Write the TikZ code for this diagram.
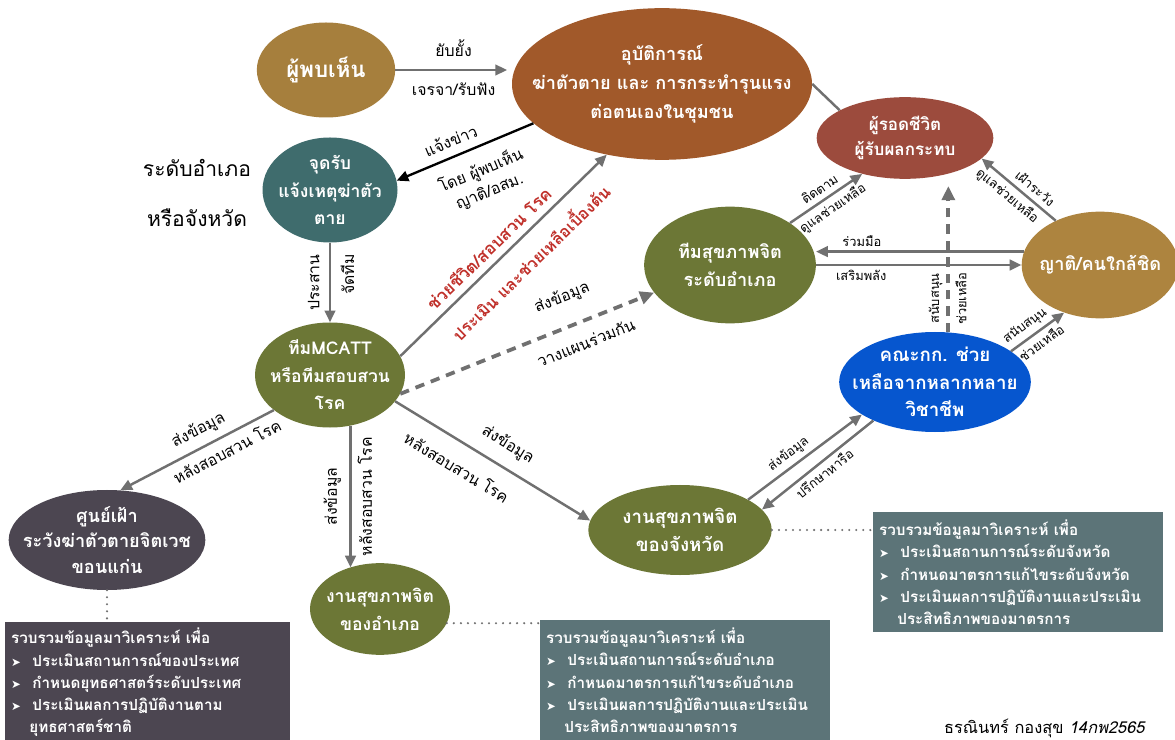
\documentclass[tikz,border=0pt]{standalone}
\usepackage{fontspec}
\setmainfont[Script=Thai]{Loma}
\newfontfamily\symfont{DejaVu Sans}
\usetikzlibrary{arrows.meta,shapes.geometric}
\definecolor{cfinder}{HTML}{A67F3D}
\definecolor{cincident}{HTML}{A1592A}
\definecolor{csurv}{HTML}{9C4B3D}
\definecolor{ccenter}{HTML}{3F6C6D}
\definecolor{cgreen}{HTML}{6C7736}
\definecolor{crel}{HTML}{AD843F}
\definecolor{cblue}{HTML}{0656CF}
\definecolor{cpurple}{HTML}{4C4651}
\definecolor{cbox}{HTML}{5C7478}
\definecolor{carrow}{HTML}{707070}
\definecolor{cred}{HTML}{C0302A}
\newcommand{\bul}{\makebox[1.4em][l]{\symfont\fontsize{10}{10}\selectfont ➤}}
\newcommand{\cnt}{\hspace*{1.2em}}
\begin{document}
\begin{tikzpicture}[x=0.03cm,y=-0.03cm,
  blob/.style={ellipse, inner xsep=-150pt, inner ysep=-80pt, text=white, align=center, font=\bfseries\fontsize{15}{24}\selectfont},
  arr/.style={draw=carrow, line width=2.1pt, -{Triangle[length=10pt,width=9pt]}},
  arrk/.style={draw=black, line width=2pt, -{Triangle[length=10pt,width=9pt]}},
  dasharr/.style={draw=carrow, line width=3.2pt, dash pattern=on 8pt off 6pt, -{Triangle[length=12pt,width=11pt]}},
  gline/.style={draw=carrow, line width=2.1pt},
  dotl/.style={draw=carrow, line width=2pt, line cap=round, dash pattern=on 0pt off 6pt},
  lab/.style={font=\fontsize{13.5}{19}\selectfont, inner sep=2pt, text=black},
  slab/.style={font=\fontsize{11}{13}\selectfont, inner sep=1.5pt, text=black},
  redlab/.style={font=\bfseries\fontsize{14.5}{17}\selectfont, inner sep=2pt, text=cred},
  infobox/.style={anchor=north west, inner sep=5pt, text=white, align=left, font=\bfseries\fontsize{13}{19}\selectfont},
  side/.style={font=\fontsize{18}{22}\selectfont, text=black}
]
\useasboundingbox[fill=white] (0,0) rectangle (1175,740);

% ellipses
\node[blob, fill=cfinder, minimum width=4.15cm, minimum height=2.85cm, font=\bfseries\fontsize{19}{22}\selectfont] (finder) at (326,70) {ผู้พบเห็น};
\node[blob, fill=cincident, minimum width=9cm, minimum height=4.55cm, font=\bfseries\fontsize{15.5}{25}\selectfont] (incident) at (662,84) {อุบัติการณ์\\ฆ่าตัวตาย และ การกระทำรุนแรง\\ต่อตนเองในชุมชน};
\node[blob, fill=csurv, minimum width=5.3cm, minimum height=2.45cm, font=\bfseries\fontsize{14.5}{22}\selectfont] (survivor) at (905,138) {ผู้รอดชีวิต\\ผู้รับผลกระทบ};
\node[blob, fill=ccenter, minimum width=4.05cm, minimum height=3.15cm, font=\bfseries\fontsize{15}{23.5}\selectfont] (center) at (330,190) {จุดรับ\\แจ้งเหตุฆ่าตัว\\ตาย};
\node[blob, fill=cgreen, minimum width=5.15cm, minimum height=3.5cm, font=\bfseries\fontsize{15.5}{24}\selectfont] (mhteam) at (730,265) {ทีมสุขภาพจิต\\ระดับอำเภอ};
\node[blob, fill=crel, minimum width=4.7cm, minimum height=3.2cm, font=\bfseries\fontsize{15.5}{20}\selectfont] (relative) at (1100,265) {ญาติ/คนใกล้ชิด};
\node[blob, fill=cgreen, minimum width=4.5cm, minimum height=3.15cm, font=\bfseries\fontsize{15}{23.5}\selectfont] (mcatt) at (330,375) {ทีมMCATT\\หรือทีมสอบสวน\\โรค};
\node[blob, fill=cblue, minimum width=5.75cm, minimum height=3cm, font=\bfseries\fontsize{16}{23.5}\selectfont] (committee) at (935,382) {คณะกก. ช่วย\\เหลือจากหลากหลาย\\วิชาชีพ};
\node[blob, fill=cpurple, minimum width=5.9cm, minimum height=3cm, font=\bfseries\fontsize{15.5}{22}\selectfont] (surveil) at (107,540) {ศูนย์เฝ้า\\ระวังฆ่าตัวตายจิตเวช\\ขอนแก่น};
\node[blob, fill=cgreen, minimum width=5.5cm, minimum height=2.7cm, font=\bfseries\fontsize{16}{24}\selectfont] (prov) at (680,530) {งานสุขภาพจิต\\ของจังหวัด};
\node[blob, fill=cgreen, minimum width=4.2cm, minimum height=2.75cm, font=\bfseries\fontsize{15}{24}\selectfont] (dist) at (380,609) {งานสุขภาพจิต\\ของอำเภอ};

% side labels
\node[side] (lvl1) at (197,168) {ระดับอำเภอ};
\node[side] (lvl2) at (197,218) {หรือจังหวัด};

% info boxes
\node[infobox, fill=cpurple, minimum width=8.55cm, minimum height=3.54cm, text width=8.2cm] (boxA) at (5,622) {รวบรวมข้อมูลมาวิเคราะห์ เพื่อ\\
\bul ประเมินสถานการณ์ของประเทศ\\
\bul กำหนดยุทธศาสตร์ระดับประเทศ\\
\bul ประเมินผลการปฏิบัติงานตาม\\
\cnt ยุทธศาสตร์ชาติ};
\node[infobox, fill=cbox, minimum width=8.7cm, minimum height=3.6cm, text width=8.35cm] (boxB) at (540,620) {รวบรวมข้อมูลมาวิเคราะห์ เพื่อ\\
\bul ประเมินสถานการณ์ระดับอำเภอ\\
\bul กำหนดมาตรการแก้ไขระดับอำเภอ\\
\bul ประเมินผลการปฏิบัติงานและประเมิน\\
\cnt ประสิทธิภาพของมาตรการ};
\node[infobox, fill=cbox, minimum width=8.7cm, minimum height=3.6cm, text width=8.35cm] (boxC) at (873,512) {รวบรวมข้อมูลมาวิเคราะห์ เพื่อ\\
\bul ประเมินสถานการณ์ระดับจังหวัด\\
\bul กำหนดมาตรการแก้ไขระดับจังหวัด\\
\bul ประเมินผลการปฏิบัติงานและประเมิน\\
\cnt ประสิทธิภาพของมาตรการ};

\node[font=\fontsize{14}{16}\selectfont, anchor=south, inner sep=1pt] (credit) at (1045,739) {ธรณินทร์ กองสุข \textit{14กพ2565}};

% connectors
\draw[arr, shorten >=4pt] (finder.east) -- (finder.east -| incident.west)
  node[lab, midway, above=8pt] {ยับยั้ง}
  node[lab, midway, below=8pt] {เจรจา/รับฟัง};
\draw[arrk] (incident.197) -- (center.8)
  node[lab, pos=0.56, sloped, above=5pt] {แจ้งข่าว}
  node[lab, pos=0.45, sloped, below=9pt, align=center] {โดย ผู้พบเห็น\\ญาติ/อสม.};
\draw[gline] (incident.east) -- (survivor.157);
\draw[arr] (center.south) -- (mcatt.north)
  node[lab, midway, rotate=90, above=6pt] {ประสาน}
  node[lab, pos=0.4, rotate=90, below=6pt] {จัดทีม};
\draw[arr] (mcatt.15) -- (incident.232)
  node[redlab, pos=0.48, sloped, above=4pt] {ช่วยชีวิต/สอบสวน โรค}
  node[redlab, pos=0.55, sloped, below=9pt, font=\bfseries\fontsize{14}{17}\selectfont] {ประเมิน และช่วยเหลือเบื้องต้น};
\draw[dasharr] (mcatt.-15) -- (mhteam.200)
  node[lab, pos=0.68, sloped, above=14pt] {ส่งข้อมูล}
  node[lab, pos=0.7, sloped, below=9pt] {วางแผนร่วมกัน};
\draw[arr] (mcatt.212) -- (surveil.75)
  node[lab, pos=0.44, sloped, above=4pt] {ส่งข้อมูล}
  node[lab, pos=0.35, sloped, below=3pt] {หลังสอบสวน โรค};
\draw[arr] (mcatt.-68) -- (mcatt.-68 |- dist.126)
  node[lab, midway, rotate=90, above=5pt] {ส่งข้อมูล}
  node[lab, midway, rotate=90, below=3pt] {หลังสอบสวน โรค};
\draw[arr] (mcatt.-22) -- (prov.174)
  node[lab, pos=0.52, sloped, above=8pt] {ส่งข้อมูล}
  node[lab, pos=0.38, sloped, below=11pt] {หลังสอบสวน โรค};
\draw[arr] (mhteam.35) -- (survivor.220)
  node[slab, midway, sloped, above=3pt] {ติดตาม}
  node[slab, midway, sloped, below=2pt] {ดูแลช่วยเหลือ};
\draw[arr] (relative.135) -- (survivor.-15)
  node[slab, pos=0.38, sloped, above=3pt] {เฝ้าระวัง}
  node[slab, pos=0.55, sloped, below=2pt] {ดูแลช่วยเหลือ};
\draw[arr] (relative.170) -- (relative.170 -| mhteam.east)
  node[slab, pos=0.78, above=2pt] {ร่วมมือ};
\draw[arr] (mhteam.east |- relative.west) -- (relative.west)
  node[slab, pos=0.22, below=2pt] {เสริมพลัง};
\draw[dasharr, shorten >=6pt] (committee.75) -- (committee.75 |- survivor.south)
  node[slab, pos=0.22, rotate=90, above=2pt] {สนับสนุน}
  node[slab, pos=0.22, rotate=90, below=3pt] {ช่วยเหลือ};
\draw[arr] (committee.22) -- (relative.233)
  node[slab, pos=0.4, sloped, above=2pt] {สนับสนุน}
  node[slab, pos=0.45, sloped, below=2pt] {ช่วยเหลือ};
\draw[arr] (prov.24) -- (committee.204)
  node[slab, pos=0.42, sloped, above=2pt] {ส่งข้อมูล};
\draw[arr] (committee.212) -- (prov.14)
  node[slab, midway, sloped, below=2pt] {ปรึกษาหารือ};

% dotted links to boxes
\draw[dotl] (surveil.south) -- (surveil.south |- boxA.north);
\draw[dotl] (dist.-12) -- (dist.-12 -| boxB.west);
\draw[dotl] (prov.east) -- (prov.east -| boxC.west);
\end{tikzpicture}
\end{document}
